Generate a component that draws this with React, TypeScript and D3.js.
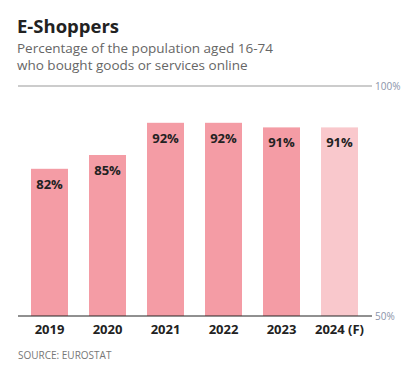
import React from "react";
import * as d3 from "d3";

const categories = ["2019", "2020", "2021", "2022", "2023", "2024 (F)"];
const values = [82, 85, 92, 92, 91, 91];
const forecast = [false, false, false, false, false, true];
const yTicks = [50, 100];

export default function App() {
  const W = 417, H = 381;
  const x = d3.scaleBand<string>().domain(categories).range([31, 358]).paddingInner(0.362).paddingOuter(0);
  const y = d3.scaleLinear().domain([50, 100]).range([316, 86]);
  const font = "'Open Sans', sans-serif";
  return (
    <svg width={W} height={H} style={{ position: "absolute", left: 0, top: 0, background: "#fff" }} fontFamily={font}>
      <text x={17} y={33} fontSize={18.5} fontWeight={700} fill="#222">E-Shoppers</text>
      <text x={17} y={53} fontSize={13.5} fill="#666">Percentage of the population aged 16-74</text>
      <text x={17} y={70} fontSize={13.5} fill="#666">who bought goods or services online</text>
      <line x1={18} x2={372} y1={y(100)} y2={y(100)} stroke="#999" strokeWidth={1} />
      {categories.map((c, i) => (
        <g key={c}>
          <rect x={x(c)} y={y(values[i])} width={x.bandwidth()} height={y(50) - y(values[i])} fill={forecast[i] ? "#f9c8cc" : "#f49ca5"} />
          <text x={(x(c) as number) + x.bandwidth() / 2} y={y(values[i]) + 20} textAnchor="middle" fontSize={13} fontWeight={700} fill="#222">{values[i]}%</text>
          <text x={(x(c) as number) + x.bandwidth() / 2} y={334} textAnchor="middle" fontSize={13} fontWeight={700} fill="#222">{c}</text>
        </g>
      ))}
      <line x1={18} x2={372} y1={y(50)} y2={y(50)} stroke="#222" strokeWidth={1.2} />
      {yTicks.map(t => (
        <text key={t} x={375} y={y(t) + 4} fontSize={10} fill="#8a93a8">{t}%</text>
      ))}
      <text x={18} y={359} fontSize={10} fill="#777">SOURCE: EUROSTAT</text>
    </svg>
  );
}
